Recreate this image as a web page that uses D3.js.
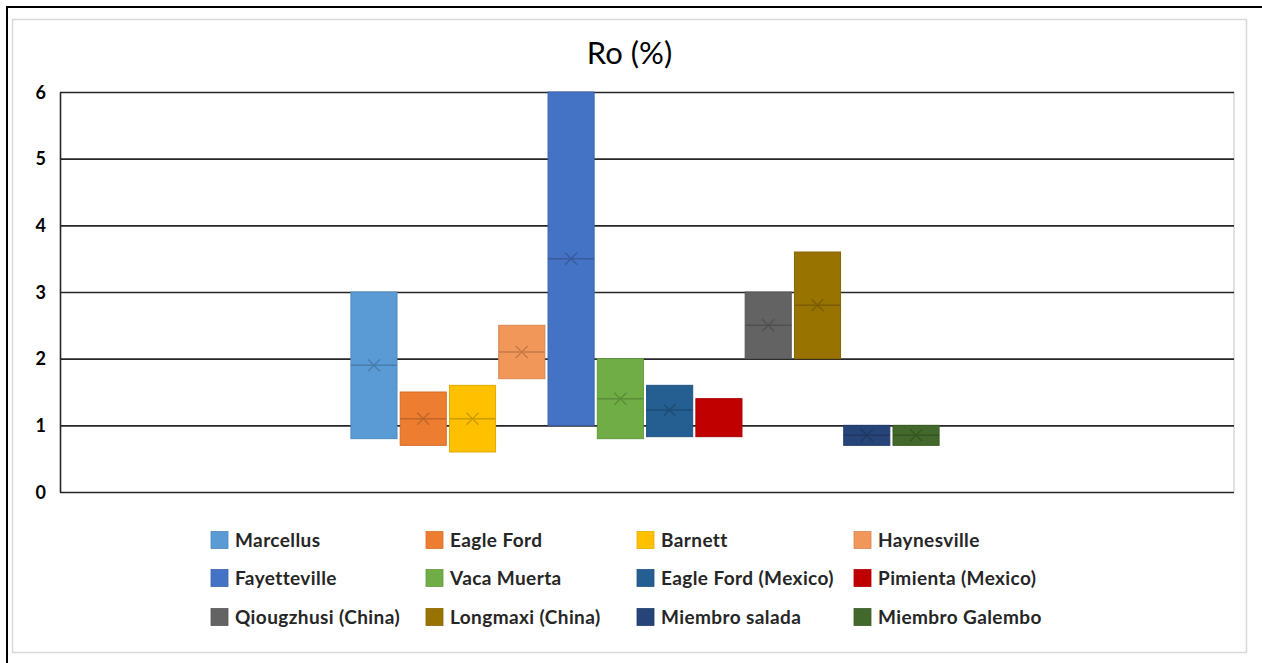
<!DOCTYPE html>
<html>
<head>
<meta charset="utf-8">
<script src="https://cdn.jsdelivr.net/npm/d3@7"></script>
<style>
html,body{margin:0;padding:0;background:#fff;}
svg{display:block;}
</style>
</head>
<body>
<svg id="chart" width="1262" height="663"></svg>
<script>
const title = "Ro (%)";
const series = ["Marcellus","Eagle Ford","Barnett","Haynesville","Fayetteville","Vaca Muerta","Eagle Ford (Mexico)","Pimienta (Mexico)","Qiougzhusi (China)","Longmaxi (China)","Miembro salada","Miembro Galembo"];
const lows    = [0.8, 0.7, 0.6, 1.7, 1.0, 0.8, 0.83, 0.83, 2.0, 2.0, 0.7, 0.7];
const highs   = [3.0, 1.5, 1.6, 2.5, 6.0, 2.0, 1.6, 1.4, 3.0, 3.6, 1.0, 1.0];
const medians = [1.9, 1.1, 1.1, 2.1, 3.5, 1.4, 1.23, null, 2.5, 2.8, 0.85, 0.85];
const means   = [1.9, 1.1, 1.1, 2.1, 3.5, 1.4, 1.23, null, 2.5, 2.8, 0.85, 0.85];
const colors  = ["#5B9BD5","#ED7D31","#FFC000","#F1975A","#4472C4","#70AD47","#255E91","#C00000","#636363","#997300","#264478","#43682B"];
const yTicks  = [0,1,2,3,4,5,6];

const svg = d3.select("#chart");
// outer black frame
svg.append("rect").attr("x",7).attr("y",7).attr("width",1262).attr("height",670)
  .attr("fill","none").attr("stroke","#000").attr("stroke-width",2);
// chart area
svg.append("rect").attr("x",12.5).attr("y",19.5).attr("width",1234).attr("height",633)
  .attr("fill","#fff").attr("stroke","#d9d9d9").attr("stroke-width",1.5);

svg.append("text").attr("x",629.5).attr("y",64).attr("text-anchor","middle")
  .attr("font-family","Lato, 'Open Sans', sans-serif").attr("font-size",31).attr("fill","#000")
  .text(title);

const plot = {l:60, r:1234, t:92, b:492};
const y = d3.scaleLinear().domain([0,6]).range([plot.b, plot.t]);
const xCat = d3.scaleBand().domain(["all"]).range([plot.l, plot.r]).paddingOuter(0.498);
const cx0 = xCat("all") + xCat.bandwidth()/2 - 2;
const xs = d3.scaleBand().domain(series)
  .range([cx0 - xCat.bandwidth()/2, cx0 + xCat.bandwidth()/2]).paddingInner(0.065).paddingOuter(0);

// plot border right (light)
svg.append("line").attr("x1",plot.r).attr("x2",plot.r).attr("y1",plot.t).attr("y2",plot.b)
  .attr("stroke","#d9d9d9").attr("stroke-width",1.5);

// gridlines
const grid = svg.append("g").attr("transform",`translate(${plot.l},0)`)
  .call(d3.axisLeft(y).tickValues(yTicks).tickSize(-(plot.r-plot.l)).tickFormat(""));
grid.select(".domain").remove();
grid.selectAll("line").attr("stroke","#262626").attr("stroke-width",1.6);

// y axis
const ya = svg.append("g").attr("transform",`translate(${plot.l},0)`)
  .call(d3.axisLeft(y).tickValues(yTicks).tickSize(0).tickPadding(14).tickFormat(d3.format("d")));
ya.select(".domain").attr("stroke","#262626").attr("stroke-width",1.6);
ya.selectAll("text").attr("font-family","Lato, 'Open Sans', sans-serif").attr("font-weight","bold")
  .attr("font-size",18).attr("fill","#000").attr("dy","0.35em");

// boxes
const boxes = svg.append("g").selectAll("g").data(series).join("g");
boxes.append("rect")
  .attr("x",(d)=>xs(d)).attr("width",xs.bandwidth())
  .attr("y",(d,i)=>y(highs[i])).attr("height",(d,i)=>y(lows[i])-y(highs[i]))
  .attr("fill",(d,i)=>colors[i])
  .attr("stroke",(d,i)=>d3.color(colors[i]).darker(0.35)).attr("stroke-width",1);
boxes.filter((d,i)=>medians[i]!=null).append("line")
  .attr("x1",(d)=>xs(d)).attr("x2",(d)=>xs(d)+xs.bandwidth())
  .attr("y1",(d)=>y(medians[series.indexOf(d)])).attr("y2",(d)=>y(medians[series.indexOf(d)]))
  .attr("stroke",(d)=>d3.color(colors[series.indexOf(d)]).darker(0.6)).attr("stroke-width",1.5);
boxes.filter((d,i)=>means[i]!=null).append("path")
  .attr("d",(d)=>{
    const i = series.indexOf(d);
    const cx = xs(d)+xs.bandwidth()/2, cy = y(means[i]), s = 6;
    return `M${cx-s},${cy-s}L${cx+s},${cy+s}M${cx-s},${cy+s}L${cx+s},${cy-s}`;
  })
  .attr("stroke",(d)=>d3.color(colors[series.indexOf(d)]).darker(0.6)).attr("stroke-width",1.3).attr("fill","none");

// legend
const legX = [211, 426, 637, 854];
const legY = [540, 578, 617];
const leg = svg.append("g").selectAll("g").data(series).join("g")
  .attr("transform",(d,i)=>`translate(${legX[i%4]},${legY[Math.floor(i/4)]})`);
leg.append("rect").attr("x",0).attr("y",-8.5).attr("width",17).attr("height",17)
  .attr("fill",(d,i)=>colors[i]).attr("stroke",(d,i)=>d3.color(colors[i]).darker(0.3)).attr("stroke-width",0.8);
leg.append("text").attr("x",24).attr("y",0).attr("dy","0.35em")
  .attr("font-family","Lato, 'Open Sans', sans-serif").attr("font-weight","bold").attr("font-size",19)
  .attr("letter-spacing",0.4)
  .attr("fill","#262626").text(d=>d);
</script>
</body>
</html>
